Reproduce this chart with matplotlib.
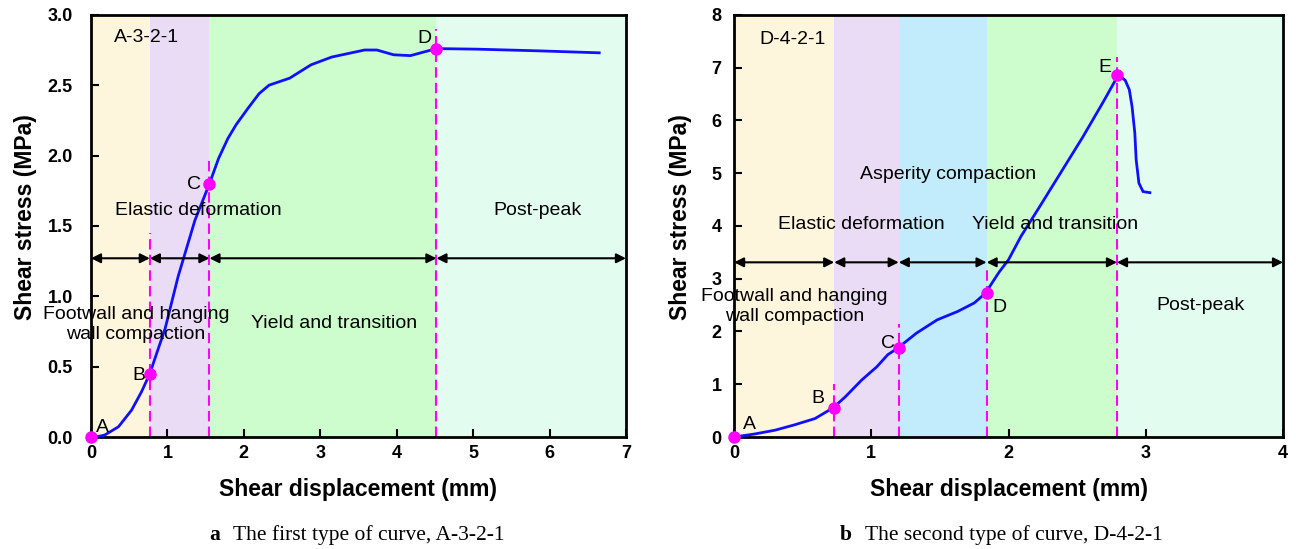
import matplotlib.pyplot as plt

# --- Curve a: A-3-2-1 ---
disp_a = [0, 0.1, 0.18, 0.36, 0.53, 0.66, 0.77, 0.86, 0.97, 1.14, 1.36, 1.55, 1.67,
          1.79, 1.9, 2.06, 2.2, 2.33, 2.6, 2.88, 3.15, 3.58, 3.74, 3.96, 4.18, 4.52,
          5.05, 5.86, 6.65]
stress_a = [0, 0.004, 0.014, 0.073, 0.19, 0.32, 0.45, 0.595, 0.77, 1.14, 1.54, 1.80, 1.98,
            2.12, 2.22, 2.34, 2.44, 2.50, 2.55, 2.645, 2.70, 2.75, 2.75, 2.716, 2.71, 2.76,
            2.756, 2.744, 2.73]
pts_a_x = [0, 0.77, 1.55, 4.52]
pts_a_y = [0, 0.45, 1.80, 2.76]
bounds_a = [0, 0.77, 1.55, 4.52, 7]
dash_top_a = [1.45, 1.99, 2.9]

# --- Curve b: D-4-2-1 ---
disp_b = [0, 0.15, 0.30, 0.44, 0.59, 0.72, 0.81, 0.93, 1.04, 1.12, 1.19, 1.33, 1.48,
          1.63, 1.75, 1.83, 1.93, 2.0, 2.09, 2.24, 2.39, 2.54, 2.69, 2.80, 2.85,
          2.88, 2.90, 2.92, 2.93, 2.95, 2.98, 3.03]
stress_b = [0, 0.057, 0.13, 0.23, 0.35, 0.55, 0.76, 1.08, 1.33, 1.56, 1.68, 1.97, 2.22,
            2.38, 2.54, 2.72, 3.12, 3.36, 3.8, 4.42, 5.05, 5.68, 6.35, 6.86, 6.76,
            6.58, 6.26, 5.76, 5.25, 4.81, 4.65, 4.63]
pts_b_x = [0, 0.73, 1.2, 1.84, 2.79]
pts_b_y = [0, 0.55, 1.68, 2.72, 6.86]
bounds_b = [0, 0.73, 1.2, 1.84, 2.79, 4]
dash_top_b = [1.0, 2.15, 3.2, 7.2]

col_orange = '#fef5dd'
col_lav = '#eadcf4'
col_green = '#cdfdcd'
col_mint = '#e2fdf0'
col_blue = '#c2ecfb'

plt.rcParams['font.family'] = ['Liberation Sans', 'DejaVu Sans']

fig = plt.figure(figsize=(12.96, 5.49), dpi=100)
ax1 = fig.add_axes([0.0702, 0.204, 0.4128, 0.769])
ax2 = fig.add_axes([0.5664, 0.204, 0.4236, 0.769])


def style_axes(ax, xmax, ymax, yticks, yfmt, ypad, ylab_x):
    ax.set_xlim(0, xmax)
    ax.set_ylim(0, ymax)
    ax.set_xticks(range(0, xmax + 1))
    ax.set_yticks(yticks)
    ax.set_yticklabels([yfmt.format(v) for v in yticks])
    for s in ax.spines.values():
        s.set_linewidth(2)
    ax.tick_params(direction='in', length=6, width=1.5, labelsize=13)
    ax.tick_params(axis='x', pad=6)
    ax.tick_params(axis='y', pad=ypad)
    for lab in ax.get_xticklabels() + ax.get_yticklabels():
        lab.set_fontweight('bold')
    ax.set_xlabel('Shear displacement (mm)', fontsize=16.5, fontweight='bold', labelpad=11)
    ax.set_ylabel('Shear stress (MPa)', fontsize=16.5, fontweight='bold')
    ax.yaxis.set_label_coords(ylab_x, 0.52)


def arrows(ax, bounds, y):
    for x0, x1 in zip(bounds[:-1], bounds[1:]):
        ax.annotate('', xy=(x1, y), xytext=(x0, y),
                    arrowprops=dict(arrowstyle='<|-|>', color='black', lw=1.5,
                                    shrinkA=0, shrinkB=0, mutation_scale=14), zorder=4)


dash = (0, (5, 2.5))

# ---------- panel a ----------
for (x0, x1), c in zip(zip(bounds_a[:-1], bounds_a[1:]), [col_orange, col_lav, col_green, col_mint]):
    ax1.axvspan(x0, x1, color=c, lw=0, zorder=0)
ax1.vlines(pts_a_x[1:], 0, dash_top_a, colors='#ff00ff', linestyles=dash, lw=1.5, zorder=2)
arrows(ax1, bounds_a, 1.27)
ax1.plot(disp_a, stress_a, color='#1010ff', lw=2, zorder=3)
ax1.plot(pts_a_x, pts_a_y, 'o', color='#ff00ff', ms=8, zorder=5, clip_on=False)
ax1.text(0.07, 0.035, 'A', fontsize=14)
ax1.text(0.71, 0.405, 'B', fontsize=14, ha='right')
ax1.text(1.44, 1.76, 'C', fontsize=14, ha='right')
ax1.text(4.45, 2.8, 'D', fontsize=14, ha='right')
ax1.text(0.30, 2.84, 'A-3-2-1', fontsize=14, va='center')
ax1.text(1.41, 1.61, 'Elastic deformation', fontsize=14, ha='center', va='center')
ax1.text(5.84, 1.61, 'Post-peak', fontsize=14, ha='center', va='center')
ax1.text(0.59, 0.80, 'Footwall and hanging\nwall compaction', fontsize=14, ha='center',
         va='center', linespacing=1.2)
ax1.text(3.18, 0.81, 'Yield and transition', fontsize=14, ha='center', va='center')
style_axes(ax1, 7, 3.0, [0, 0.5, 1.0, 1.5, 2.0, 2.5, 3.0], '{:.1f}', 13, -0.101)

# ---------- panel b ----------
for (x0, x1), c in zip(zip(bounds_b[:-1], bounds_b[1:]), [col_orange, col_lav, col_blue, col_green, col_mint]):
    ax2.axvspan(x0, x1, color=c, lw=0, zorder=0)
ax2.vlines(pts_b_x[1:], 0, dash_top_b, colors='#ff00ff', linestyles=dash, lw=1.5, zorder=2)
arrows(ax2, bounds_b, 3.31)
ax2.plot(disp_b, stress_b, color='#1010ff', lw=2, zorder=3)
ax2.plot(pts_b_x, pts_b_y, 'o', color='#ff00ff', ms=8, zorder=5, clip_on=False)
ax2.text(0.066, 0.15, 'A', fontsize=14)
ax2.text(0.66, 0.64, 'B', fontsize=14, ha='right')
ax2.text(1.17, 1.69, 'C', fontsize=14, ha='right')
ax2.text(1.88, 2.37, 'D', fontsize=14)
ax2.text(2.75, 6.92, 'E', fontsize=14, ha='right')
ax2.text(0.186, 7.53, 'D-4-2-1', fontsize=14, va='center')
ax2.text(1.56, 4.97, 'Asperity compaction', fontsize=14, ha='center', va='center')
ax2.text(0.925, 4.03, 'Elastic deformation', fontsize=14, ha='center', va='center')
ax2.text(2.34, 4.03, 'Yield and transition', fontsize=14, ha='center', va='center')
ax2.text(3.40, 2.50, 'Post-peak', fontsize=14, ha='center', va='center')
ax2.text(0.44, 2.47, 'Footwall and hanging\nwall compaction', fontsize=14, ha='center',
         va='center', linespacing=1.2)
style_axes(ax2, 4, 8, list(range(0, 9)), '{:d}', 9, -0.0765)

# captions
cap_y = 0.016
fig.text(209 / 1296, cap_y, 'a', fontsize=15.5, fontweight='bold', family='Liberation Serif', va='baseline')
fig.text(233 / 1296, cap_y, 'The first type of curve, A-3-2-1', fontsize=15.5,
         family='Liberation Serif', va='baseline')
fig.text(840 / 1296, cap_y, 'b', fontsize=15.5, fontweight='bold', family='Liberation Serif', va='baseline')
fig.text(865 / 1296, cap_y, 'The second type of curve, D-4-2-1', fontsize=15.5,
         family='Liberation Serif', va='baseline')

fig.savefig('out.png', dpi=100)
